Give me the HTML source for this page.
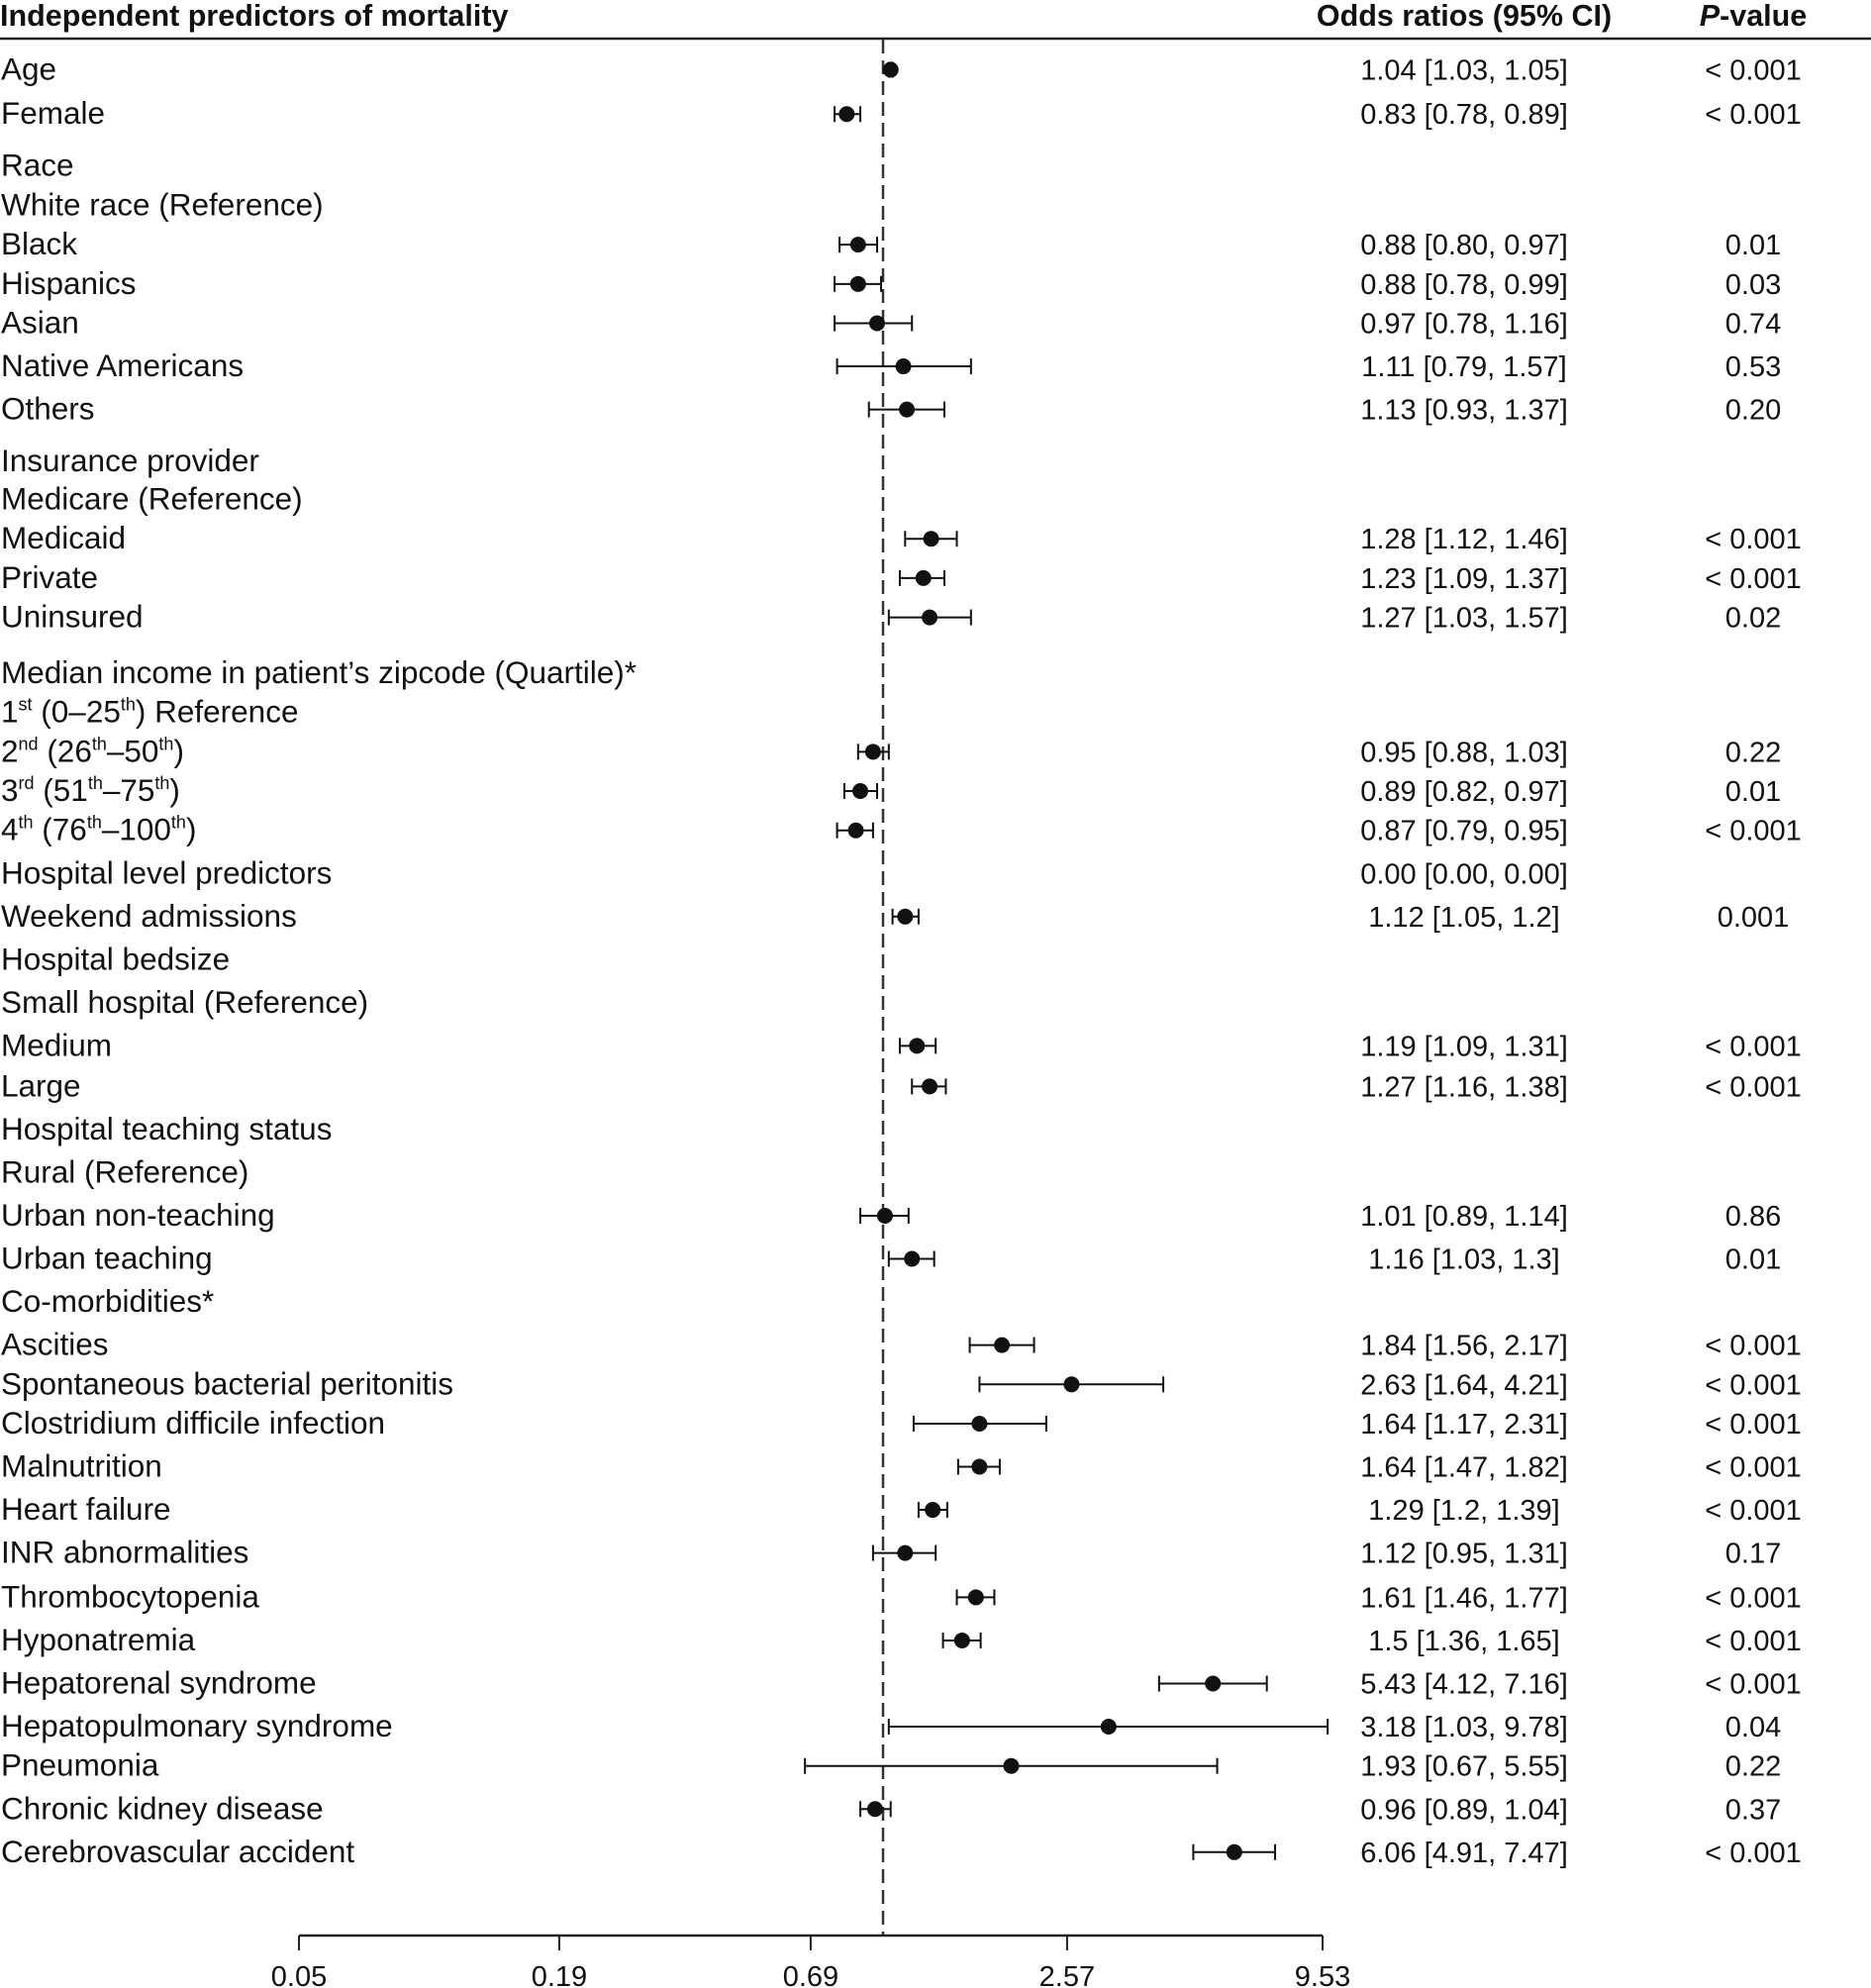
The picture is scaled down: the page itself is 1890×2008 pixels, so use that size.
<!DOCTYPE html>
<html><head><meta charset="utf-8">
<style>
html,body{margin:0;padding:0;background:#fff;}
svg{display:block;font-family:"Liberation Sans",sans-serif;}
</style></head>
<body>
<svg id="chart" width="1890" height="2008" viewBox="0 0 1890 2008" xmlns="http://www.w3.org/2000/svg">
<text x="0" y="26" font-size="30.5" font-weight="bold" fill="#111">Independent predictors of mortality</text>
<text x="1479" y="26" font-size="30.5" font-weight="bold" fill="#111" text-anchor="middle">Odds ratios (95% CI)</text>
<text x="1771" y="26" font-size="30.5" font-weight="bold" fill="#111" text-anchor="middle"><tspan font-style="italic">P</tspan>-value</text>
<line x1="0" y1="39" x2="1890" y2="39" stroke="#222" stroke-width="2.5"/>
<g id="rows"></g>
<g id="axis"></g>
</svg>
<script>
const labels = ["Age","Female","Race","White race (Reference)","Black","Hispanics","Asian","Native Americans","Others","Insurance provider","Medicare (Reference)","Medicaid","Private","Uninsured","Median income in patient\u2019s zipcode (Quartile)*","1st|(0\u201325|th|) Reference","2nd|(26|th|\u201350|th|)","3rd|(51|th|\u201375|th|)","4th|(76|th|\u2013100|th|)","Hospital level predictors","Weekend admissions","Hospital bedsize","Small hospital (Reference)","Medium","Large","Hospital teaching status","Rural (Reference)","Urban non-teaching","Urban teaching","Co-morbidities*","Ascities","Spontaneous bacterial peritonitis","Clostridium difficile infection","Malnutrition","Heart failure","INR abnormalities","Thrombocytopenia","Hyponatremia","Hepatorenal syndrome","Hepatopulmonary syndrome","Pneumonia","Chronic kidney disease","Cerebrovascular accident"];
const rowY = [55,90,131,162,193,224,255,289,323,364,394,425,456,487,531,562,593,624,655,689,723,757,791,825,857,891,925,959,993,1027,1061,1092,1123,1157,1191,1225,1260,1294,1328,1362,1393,1427,1461];
const orVals = [1.04,0.83,null,null,0.88,0.88,0.97,1.11,1.13,null,null,1.28,1.23,1.27,null,null,0.95,0.89,0.87,null,1.12,null,null,1.19,1.27,null,null,1.01,1.16,null,1.84,2.63,1.64,1.64,1.29,1.12,1.61,1.5,5.43,3.18,1.93,0.96,6.06];
const loVals = [1.03,0.78,null,null,0.80,0.78,0.78,0.79,0.93,null,null,1.12,1.09,1.03,null,null,0.88,0.82,0.79,null,1.05,null,null,1.09,1.16,null,null,0.89,1.03,null,1.56,1.64,1.17,1.47,1.2,0.95,1.46,1.36,4.12,1.03,0.67,0.89,4.91];
const hiVals = [1.05,0.89,null,null,0.97,0.99,1.16,1.57,1.37,null,null,1.46,1.37,1.57,null,null,1.03,0.97,0.95,null,1.2,null,null,1.31,1.38,null,null,1.14,1.3,null,2.17,4.21,2.31,1.82,1.39,1.31,1.77,1.65,7.16,9.78,5.55,1.04,7.47];
const orText = ["1.04 [1.03, 1.05]","0.83 [0.78, 0.89]","","","0.88 [0.80, 0.97]","0.88 [0.78, 0.99]","0.97 [0.78, 1.16]","1.11 [0.79, 1.57]","1.13 [0.93, 1.37]","","","1.28 [1.12, 1.46]","1.23 [1.09, 1.37]","1.27 [1.03, 1.57]","","","0.95 [0.88, 1.03]","0.89 [0.82, 0.97]","0.87 [0.79, 0.95]","0.00 [0.00, 0.00]","1.12 [1.05, 1.2]","","","1.19 [1.09, 1.31]","1.27 [1.16, 1.38]","","","1.01 [0.89, 1.14]","1.16 [1.03, 1.3]","","1.84 [1.56, 2.17]","2.63 [1.64, 4.21]","1.64 [1.17, 2.31]","1.64 [1.47, 1.82]","1.29 [1.2, 1.39]","1.12 [0.95, 1.31]","1.61 [1.46, 1.77]","1.5 [1.36, 1.65]","5.43 [4.12, 7.16]","3.18 [1.03, 9.78]","1.93 [0.67, 5.55]","0.96 [0.89, 1.04]","6.06 [4.91, 7.47]"];
const pText = ["< 0.001","< 0.001","","","0.01","0.03","0.74","0.53","0.20","","","< 0.001","< 0.001","0.02","","","0.22","0.01","< 0.001","","0.001","","","< 0.001","< 0.001","","","0.86","0.01","","< 0.001","< 0.001","< 0.001","< 0.001","< 0.001","0.17","< 0.001","< 0.001","< 0.001","0.04","0.22","0.37","< 0.001"];
const tickVals = [0.05,0.19,0.69,2.57,9.53];
const tickLabels = ["0.05","0.19","0.69","2.57","9.53"];

const NS="http://www.w3.org/2000/svg";
const S=1890/1476;
const xMin=302,xMax=1336;
function xScale(v){return xMin+(Math.log(v)-Math.log(0.05))/(Math.log(9.53)-Math.log(0.05))*(xMax-xMin);}
function yScale(r){return r*S;}
function mk(tag,attrs,parent){const e=document.createElementNS(NS,tag);for(const k in attrs)e.setAttribute(k,attrs[k]);parent.appendChild(e);return e;}
const rows=document.getElementById('rows'), axis=document.getElementById('axis');

const ref=mk('line',{x1:xScale(1),x2:xScale(1),y1:40,y2:1955,stroke:'#333','stroke-width':2.5,'stroke-dasharray':'14,7'},rows);



labels.forEach((lab,i)=>{
  const y=yScale(rowY[i]);
  const t=mk('text',{x:1,y:y+10,'font-size':31.5,fill:'#111'},rows);
  
  
  if(lab.includes('|')){
    const parts=lab.split('|');
    const m=parts[0].match(/^(\d)(\w+)$/);
    const a=document.createElementNS(NS,'tspan');a.textContent=m[1];t.appendChild(a);
    const b=document.createElementNS(NS,'tspan');b.textContent=m[2];b.setAttribute('font-size','18');b.setAttribute('dy','-12');t.appendChild(b);
    let sup=false;
    for(let k=1;k<parts.length;k++){
      const s=document.createElementNS(NS,'tspan');s.textContent=(k===1?' ':'')+parts[k];
      if(sup){s.setAttribute('font-size','18');s.setAttribute('dy','-12');}
      else{s.setAttribute('dy','12');}
      t.appendChild(s);sup=!sup;
    }
  } else t.textContent=lab;
  if(orText[i]){
    const o=mk('text',{x:1479,y:y+10,'font-size':29,fill:'#111','text-anchor':'middle'},rows);
    o.textContent=orText[i];
    
    
  }
  if(pText[i]){
    const p=mk('text',{x:1771,y:y+10,'font-size':29,fill:'#111','text-anchor':'middle'},rows);
    p.textContent=pText[i];
    
    
  }
  if(orVals[i]!==null){
    const x1=xScale(loVals[i]),x2=xScale(hiVals[i]),xc=xScale(orVals[i]);
    const g=mk('g',{stroke:'#111','stroke-width':2},rows);
    
    
    mk('line',{x1:x1,x2:x2,y1:y,y2:y},g);
    mk('line',{x1:x1,x2:x1,y1:y-8,y2:y+8},g);
    mk('line',{x1:x2,x2:x2,y1:y-8,y2:y+8},g);
    const c=mk('circle',{cx:xc,cy:y,r:8,fill:'#111'},rows);
    
    
  }
});

const ax=mk('line',{x1:xMin,x2:xMax,y1:1955,y2:1955,stroke:'#222','stroke-width':2.5},axis);


tickVals.forEach((v,i)=>{
  const x=xScale(v);
  const tk=mk('line',{x1:x,x2:x,y1:1955,y2:1970,stroke:'#222','stroke-width':2},axis);
  
  
  const tl=mk('text',{x:x,y:2006,'font-size':29,fill:'#111','text-anchor':'middle'},axis);
  tl.textContent=tickLabels[i];
  
  
});
</script>
</body></html>
